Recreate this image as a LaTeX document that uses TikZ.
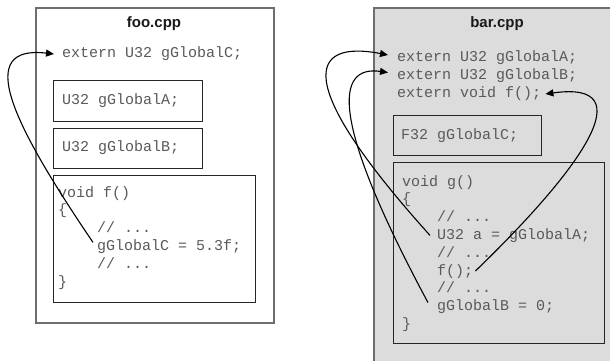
\documentclass[tikz,border=0pt]{standalone}
\usepackage{fontspec}
\setmainfont{Liberation Sans}
\setmonofont{Liberation Mono}
\usetikzlibrary{arrows.meta}
\definecolor{barfill}{HTML}{DCDCDC}
\definecolor{outerline}{HTML}{6E6E6E}
\definecolor{codegray}{HTML}{5A5A5A}
\begin{document}
\begin{tikzpicture}[x=1pt,y=-1pt,
  outerbox/.style={draw=outerline,line width=1.6pt,anchor=north west,inner sep=0pt},
  innerbox/.style={draw=black!85,line width=1.1pt,anchor=north west,inner sep=0pt},
  title/.style={font=\fontsize{15}{18}\selectfont\bfseries,text=black!90,inner sep=0pt},
  code/.style={font=\ttfamily\fontsize{15}{18}\selectfont,text=codegray,anchor=west,
    inner sep=0pt,text height=10.5pt,text depth=2.5pt},
  link/.style={line width=1.1pt,-{Triangle[length=8pt,width=7pt]}}]
\clip (0,0) rectangle (610,361);
% boxes
\node[outerbox,fill=white,minimum width=238pt,minimum height=315pt] (foobox) at (35,7) {};
\node[outerbox,fill=barfill,minimum width=250pt,minimum height=370pt] (barbox) at (373,7) {};
\node[innerbox,minimum width=149pt,minimum height=41pt] (fooAbox) at (53,80) {};
\node[innerbox,minimum width=149pt,minimum height=40pt] (fooBbox) at (53,128) {};
\node[innerbox,minimum width=202pt,minimum height=127pt] (foofbox) at (53,175) {};
\node[innerbox,minimum width=148pt,minimum height=40pt] (barCbox) at (393,115) {};
\node[innerbox,minimum width=211pt,minimum height=181pt] (bargbox) at (393,162) {};
% foo.cpp
\node[title] (footitle) at (154,24) {foo.cpp};
\node[code] (fooext) at (62,53) {extern U32 gGlobalC;};
\node[code] (fooA) at (62,100) {U32 gGlobalA;};
\node[code] (fooB) at (62,147) {U32 gGlobalB;};
\node[code] (foof1) at (58,193) {void f()};
\node[code] (foof2) at (58,210.8) {\{};
\node[code] (foof3) at (97,228.6) {// ...};
\node[code] (foof4) at (97,246.4) {gGlobalC = 5.3f;};
\node[code] (foof5) at (97,264.2) {// ...};
\node[code] (foof6) at (58,282) {\}};
% bar.cpp
\node[title] (bartitle) at (497,24) {bar.cpp};
\node[code] (barA) at (397,58) {extern U32 gGlobalA;};
\node[code] (barB) at (397,75.5) {extern U32 gGlobalB;};
\node[code] (barF) at (397,93) {extern void f();};
\node[code] (barC) at (401,135) {F32 gGlobalC;};
\node[code] (g1) at (402,182) {void g()};
\node[code] (g2) at (402,199.8) {\{};
\node[code] (g3) at (437,217.6) {// ...};
\node[code] (g4) at (437,235.4) {U32 a = gGlobalA;};
\node[code] (g5) at (437,253.2) {// ...};
\node[code] (g6) at (437,271) {f();};
\node[code] (g7) at (437,288.8) {// ...};
\node[code] (g8) at (437,306.6) {gGlobalB = 0;};
\node[code] (g9) at (402,324.4) {\}};
% connectors
\draw[link] ([shift={(-4pt,4pt)}]foof4.west) .. controls (10,120) and (-25,45) .. ([xshift=-8pt,yshift=-1pt]fooext.west);
\draw[link] ([xshift=-7pt]g4.west) .. controls (290,80) and (310,40) .. ([shift={(-9pt,3pt)}]barA.west);
\draw[link] ([shift={(-9pt,4pt)}]g8.west) .. controls (330,120) and (335,65) .. ([shift={(-9pt,3pt)}]barB.west);
\draw[link] ([xshift=2pt]g6.east) .. controls (580,170) and (645,80) .. ([shift={(4pt,-1pt)}]barF.east);
\end{tikzpicture}
\end{document}
